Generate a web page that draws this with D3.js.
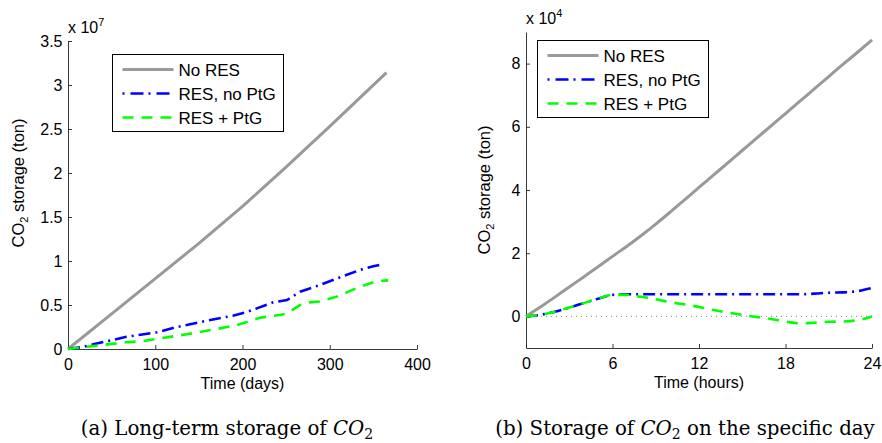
<!DOCTYPE html>
<html>
<head>
<meta charset="utf-8">
<script src="https://cdn.jsdelivr.net/npm/d3@7"></script>
<style>
  body { margin: 0; background: #fff; }
  svg { display: block; }
  text { font-family: "Liberation Sans", Arial, sans-serif; fill: #000; }
  .caption { font-family: "DejaVu Serif", "Liberation Serif", serif; }
</style>
</head>
<body>
<svg width="882" height="443"></svg>
<script>
// ---- data (left panel: x 10^7 ton vs days) ----
var longNoResDays = [0, 50, 100, 150, 200, 248, 300, 365];
var longNoRes = [0, 0.4, 0.8, 1.2, 1.62, 2.05, 2.53, 3.14];

var longResDays = [0, 15, 29, 50, 67, 85, 102, 125, 163, 190, 205, 235, 251, 266, 281, 308, 335, 350, 361];
var longRes = [0, 0.02, 0.053, 0.1, 0.14, 0.165, 0.19, 0.25, 0.33, 0.38, 0.42, 0.53, 0.557, 0.65, 0.7, 0.8, 0.9, 0.94, 0.965];

var longPtgDays = [0, 29, 67, 86, 105, 136, 170, 193, 220, 243, 251, 266, 277, 289, 308, 335, 354, 367];
var longPtg = [0, 0.034, 0.076, 0.09, 0.12, 0.167, 0.227, 0.27, 0.356, 0.386, 0.405, 0.5, 0.53, 0.54, 0.595, 0.71, 0.77, 0.78];

// ---- data (right panel: x 10^4 ton vs hours) ----
var hours = [0, 1, 2, 3, 4, 5, 6, 7, 8, 9, 10, 11, 12, 13, 14, 15, 16, 17, 18, 19, 20, 21, 22, 23, 24];
var dayNoRes = [0, 0.3, 0.61, 0.93, 1.25, 1.57, 1.9, 2.22, 2.56, 2.92, 3.3, 3.69, 4.08, 4.47, 4.86, 5.25, 5.64, 6.03, 6.42, 6.81, 7.2, 7.59, 7.98, 8.36, 8.75];
var dayRes = [0, 0.05, 0.15, 0.28, 0.42, 0.56, 0.68, 0.7, 0.7, 0.7, 0.7, 0.7, 0.7, 0.7, 0.7, 0.7, 0.7, 0.7, 0.7, 0.7, 0.72, 0.75, 0.76, 0.8, 0.9];
var dayPtg = [0, 0.05, 0.15, 0.28, 0.42, 0.56, 0.68, 0.68, 0.62, 0.54, 0.45, 0.38, 0.3, 0.2, 0.12, 0.05, -0.02, -0.08, -0.16, -0.22, -0.2, -0.17, -0.16, -0.12, 0];

var seriesNames = ["No RES", "RES, no PtG", "RES + PtG"];
var leftXTicks = [0, 100, 200, 300, 400];
var leftYTicks = [0, 0.5, 1, 1.5, 2, 2.5, 3, 3.5];
var rightXTicks = [0, 6, 12, 18, 24];
var rightYTicks = [0, 2, 4, 6, 8];

var styles = [
  { color: "#999999", width: 3, dash: null },
  { color: "#0000ff", width: 2.6, dash: "12,5,2,5" },
  { color: "#00ff00", width: 2.6, dash: "11,8" }
];

var svg = d3.select("svg");

function drawPanel(opt) {
  var x = d3.scaleLinear(opt.xDomain, opt.xRange);
  var y = d3.scaleLinear(opt.yDomain, opt.yRange);
  var g = svg.append("g");

  var xAxis = d3.axisBottom(x).tickValues(opt.xTicks).tickSizeInner(-4).tickSizeOuter(0).tickPadding(9.5);
  var yAxis = d3.axisLeft(y).tickValues(opt.yTicks).tickSizeInner(-4).tickSizeOuter(0).tickPadding(5.5)
    .tickFormat(function (d) { return d; });

  var gx = g.append("g").attr("transform", "translate(0," + opt.yRange[0] + ")").call(xAxis);
  var gy = g.append("g").attr("transform", "translate(" + opt.xRange[0] + ",0)").call(yAxis);
  [gx, gy].forEach(function (a) {
    a.selectAll("text").style("font-size", "16px").style("font-family", "Liberation Sans, Arial, sans-serif");
    a.selectAll("path, line").attr("stroke", "#222").attr("stroke-width", 0.9);
  });

  if (opt.zeroLine) {
    g.append("line")
      .attr("x1", x(opt.xDomain[0])).attr("x2", x(opt.xDomain[1]))
      .attr("y1", y(0)).attr("y2", y(0))
      .attr("stroke", "#888").attr("stroke-width", 1).attr("stroke-dasharray", "1,4");
  }

  var line = d3.line()
    .x(function (d) { return x(d[0]); })
    .y(function (d) { return y(d[1]); })
    .curve(opt.curve);

  opt.series.forEach(function (s, i) {
    g.append("path")
      .datum(d3.zip(s.xs, s.ys))
      .attr("d", line)
      .attr("fill", "none")
      .attr("stroke", styles[i].color)
      .attr("stroke-width", styles[i].width)
      .attr("stroke-dasharray", styles[i].dash);
  });

  // exponent label
  var ex = g.append("text")
    .attr("x", opt.xRange[0])
    .attr("y", opt.yRange[1] - 8.5)
    .style("font-size", "16px");
  ex.append("tspan").text("x 10");
  ex.append("tspan").attr("dy", -7).style("font-size", "11px").text(opt.exponent);

  // axis titles
  g.append("text")
    .attr("x", (opt.xRange[0] + opt.xRange[1]) / 2)
    .attr("y", opt.yRange[0] + 40)
    .attr("text-anchor", "middle")
    .style("font-size", "16px")
    .text(opt.xLabel);

  var yl = g.append("text")
    .attr("transform", "translate(" + opt.yLabelX + "," + opt.yLabelY + ") rotate(-90)")
    .attr("text-anchor", "middle")
    .style("font-size", "16.5px");
  yl.append("tspan").text("CO");
  yl.append("tspan").attr("dy", 4).style("font-size", "11px").text("2");
  yl.append("tspan").attr("dy", -4).text(" storage (ton)");

  // legend
  var lg = g.append("g").attr("transform", "translate(" + opt.legend[0] + "," + opt.legend[1] + ")");
  lg.append("rect")
    .attr("width", 171).attr("height", 77)
    .attr("fill", "#fff").attr("stroke", "#000").attr("stroke-width", 1);
  seriesNames.forEach(function (name, i) {
    var ly = 15 + i * 24;
    lg.append("line")
      .attr("x1", 10).attr("x2", 61).attr("y1", ly).attr("y2", ly)
      .attr("stroke", styles[i].color)
      .attr("stroke-width", styles[i].width)
      .attr("stroke-dasharray", i === 1 ? "2,6,13,5" : styles[i].dash);
    lg.append("text")
      .attr("x", 66).attr("y", ly + 6)
      .style("font-size", "17px")
      .text(name);
  });

  // caption
  var cap = g.append("text")
    .attr("class", "caption")
    .attr("x", opt.captionX)
    .attr("y", 435)
    .attr("text-anchor", "middle")
    .style("font-size", "19.8px");
  cap.append("tspan").text(opt.caption[0]);
  cap.append("tspan").style("font-style", "italic").text("CO");
  cap.append("tspan").attr("dy", 4).style("font-size", "14px").text("2");
  if (opt.caption[1]) cap.append("tspan").attr("dy", -4).text(opt.caption[1]);
}

drawPanel({
  xDomain: [0, 400], yDomain: [0, 3.5],
  xRange: [68, 417], yRange: [349, 41],
  xTicks: leftXTicks, yTicks: leftYTicks,
  exponent: "7",
  xLabel: "Time (days)",
  yLabelX: 24, yLabelY: 183,
  legend: [112.5, 54.5],
  curve: d3.curveLinear,
  series: [
    { xs: longNoResDays, ys: longNoRes },
    { xs: longResDays, ys: longRes },
    { xs: longPtgDays, ys: longPtg }
  ],
  caption: ["(a) Long-term storage of ", ""],
  captionX: 227
});

drawPanel({
  xDomain: [0, 24], yDomain: [-1, 9],
  xRange: [526, 872], yRange: [348, 32],
  xTicks: rightXTicks, yTicks: rightYTicks,
  exponent: "4",
  xLabel: "Time (hours)",
  yLabelX: 490, yLabelY: 190,
  legend: [537.5, 40.5],
  curve: d3.curveMonotoneX,
  zeroLine: true,
  series: [
    { xs: hours, ys: dayNoRes },
    { xs: hours, ys: dayRes },
    { xs: hours, ys: dayPtg }
  ],
  caption: ["(b) Storage of ", " on the specific day"],
  captionX: 685
});
</script>
</body>
</html>
